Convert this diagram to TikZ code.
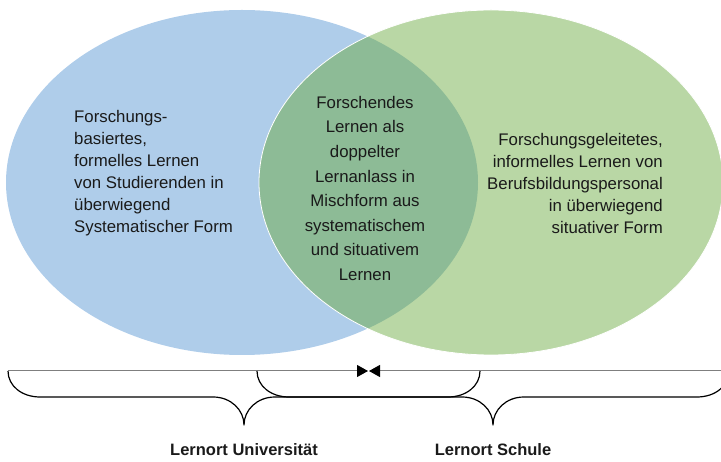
\documentclass[tikz,border=0pt]{standalone}
\usepackage{fontspec}
\setmainfont{Liberation Sans}
\usepackage{xcolor}
\usetikzlibrary{arrows.meta}
\definecolor{uniblue}{HTML}{AFCDEA}
\definecolor{schulgreen}{HTML}{B9D7A5}
\definecolor{lensgreen}{HTML}{8DBB96}
\definecolor{linegray}{HTML}{7F7F7F}
\definecolor{textdark}{HTML}{1A1A1A}

\tikzset{
  venntext/.style={inner sep=0pt, text=textdark, font=\fontsize{16.8}{22}\selectfont},
  bracepath/.style={draw=black, line width=1.2pt, line join=round},
  ortlabel/.style={anchor=base, inner sep=1pt, text=textdark, font=\bfseries\fontsize{16.5}{19}\selectfont},
  meetarrow/.style={draw=linegray, line width=1pt, -{Triangle[length=11pt,width=12pt,color=black]}}
}

\begin{document}
\begin{tikzpicture}[x=1pt,y=-1pt]
\useasboundingbox (0,0) rectangle (721,462);

% Kreise
\fill[uniblue] (242,182.5) ellipse [x radius=236, y radius=172.5];
\fill[schulgreen] (491,182.5) ellipse [x radius=232, y radius=172.5];
\begin{scope}
  \clip (242,182.5) ellipse [x radius=236, y radius=172.5];
  \fill[lensgreen] (491,182.5) ellipse [x radius=232, y radius=172.5];
\end{scope}
\draw[white, line width=0.8pt] (491,182.5) ellipse [x radius=232, y radius=172.5];

% Texte
\node (unitext) [venntext, anchor=north west, align=left] at (74,110)
  {Forschungs-\\basiertes,\\formelles Lernen\\von Studierenden in\\überwiegend\\Systematischer Form};
\node (lenstext) [venntext, anchor=north, align=center, font=\fontsize{16.8}{24.6}\selectfont] at (365,96)
  {Forschendes\\Lernen als\\doppelter\\Lernanlass in\\Mischform aus\\systematischem\\und situativem\\Lernen};
\node (schultext) [venntext, anchor=north east, align=right] at (663,133)
  {Forschungsgeleitetes,\\informelles Lernen von\\Berufsbildungspersonal\\in überwiegend\\situativer Form};

% Linie mit Pfeilen
\coordinate (lineL) at (8,371);
\coordinate (lineR) at (729,371);
\coordinate (meetL) at (368,371);
\coordinate (meetR) at (369,371);
\draw[meetarrow] (lineL) -- (meetL);
\draw[meetarrow] (lineR) -- (meetR);

% Klammern
\draw[bracepath] (8,371) .. controls (8,386) and (22,397) .. (40,397) -- (213,397)
  .. controls (231,397) and (244,410) .. (244,425)
  .. controls (244,410) and (257,397) .. (275,397) -- (448,397)
  .. controls (466,397) and (480,386) .. (480,371);
\draw[bracepath] (257,371) .. controls (257,386) and (271,397) .. (289,397) -- (462,397)
  .. controls (480,397) and (493,410) .. (493,425)
  .. controls (493,410) and (506,397) .. (524,397) -- (697,397)
  .. controls (715,397) and (729,386) .. (729,371);

% Lernorte
\node (unilabel) [ortlabel] at (244,456) {Lernort Universität};
\node (schullabel) [ortlabel] at (493,456) {Lernort Schule};
\end{tikzpicture}
\end{document}
